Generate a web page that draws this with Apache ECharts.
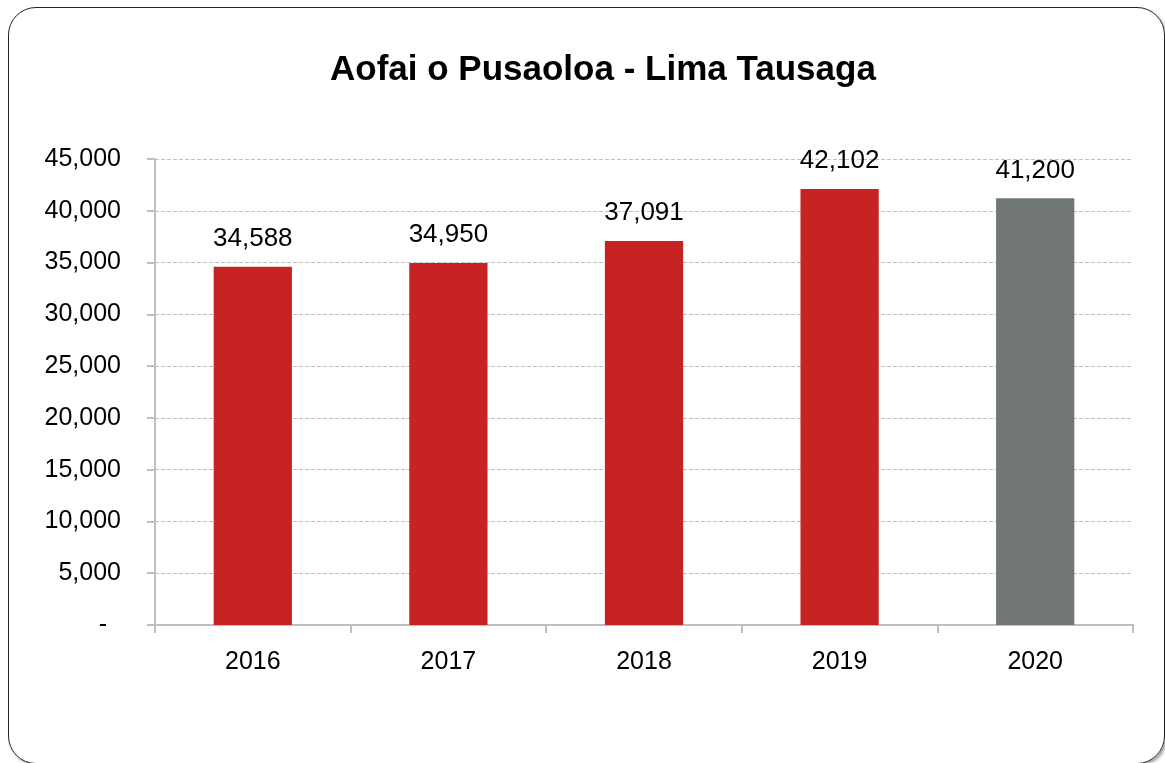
<!DOCTYPE html>
<html>
<head>
<meta charset="utf-8">
<script src="https://cdn.jsdelivr.net/npm/echarts@6/dist/echarts.min.js"></script>
<style>
	html, body { margin: 0; padding: 0; background: #fff; overflow: hidden; }
	#frame {
		position: absolute; left: 8px; top: 7px; width: 1155px; height: 755px;
		border: 1.5px solid #222; border-radius: 28px;
		box-shadow: 2px 2px 3px rgba(0,0,0,0.35);
	}
	#main { position: absolute; left: 0; top: 0; width: 1165px; height: 763px; }
</style>
</head>
<body>
<div id="frame"></div>
<div id="main"></div>
<script>
var years = ['2016', '2017', '2018', '2019', '2020'];
var values = [34588, 34950, 37091, 42102, 41200];
var barColors = ['#c82323', '#c82323', '#c82323', '#c82323', '#717776'];

var FONT = '"Liberation Sans", Arial';

var myChart = echarts.init(document.getElementById('main'));
var option = {
	animation: false,
	title: {
		text: 'Aofai o Pusaoloa - Lima Tausaga',
		left: 325,
		top: 48,
		textStyle: {
			fontFamily: FONT,
			fontSize: 35,
			fontWeight: 'bold',
			color: '#000'
		}
	},
	grid: {
		left: 155,
		right: 32,
		top: 159,
		bottom: 138
	},
	xAxis: {
		type: 'category',
		data: years,
		axisLine: { lineStyle: { color: '#bfbfbf', width: 2 } },
		axisTick: { show: true, alignWithLabel: false, length: 8, lineStyle: { color: '#bfbfbf', width: 2 } },
		axisLabel: {
			margin: 25,
			fontFamily: FONT,
			fontSize: 25,
			color: '#000'
		}
	},
	yAxis: {
		type: 'value',
		min: 0,
		max: 45000,
		interval: 5000,
		axisLine: { show: true, lineStyle: { color: '#bfbfbf', width: 2 } },
		axisTick: { show: true, length: 8, lineStyle: { color: '#bfbfbf', width: 2 } },
		splitLine: { lineStyle: { color: '#c0c0c0', type: [4, 2], width: 1 } },
		axisLabel: {
			margin: 34,
			fontFamily: FONT,
			fontSize: 25,
			color: '#000',
			formatter: function (v) {
				return v === 0 ? '-  ' : v.toLocaleString('en-US');
			}
		}
	},
	series: [{
		type: 'bar',
		barWidth: '40%',
		data: values.map(function (v, i) {
			return { value: v, itemStyle: { color: barColors[i] } };
		}),
		label: {
			show: true,
			position: 'top',
			distance: 15,
			fontFamily: FONT,
			fontSize: 26,
			color: '#000',
			formatter: function (p) { return p.value.toLocaleString('en-US'); }
		}
	}]
};
myChart.setOption(option);
</script>
</body>
</html>
